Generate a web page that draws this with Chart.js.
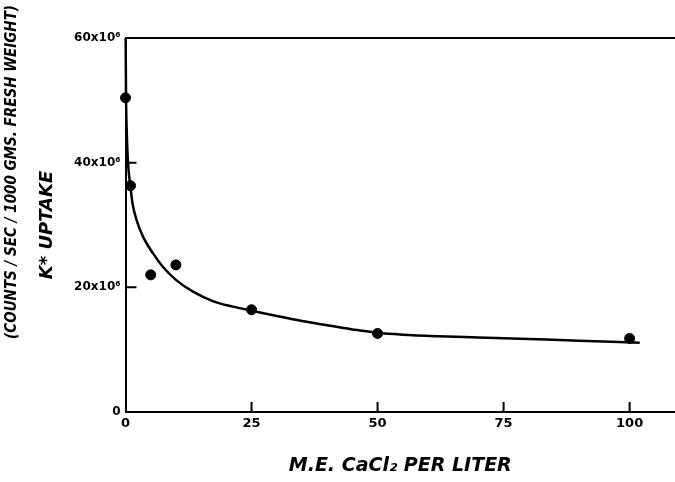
<!DOCTYPE html>
<html><head><meta charset="utf-8">
<script src="https://cdn.jsdelivr.net/npm/chart.js@4/dist/chart.umd.min.js"></script>
<style>html,body{margin:0;padding:0;background:#fff}#wrap{width:675px;height:482px}</style>
</head><body><div id="wrap"><canvas id="c" width="675" height="482"></canvas></div>
<script>
// Measured points: M.E. CaCl2 per liter vs K* uptake (x10^6 counts/sec/1000 gms fresh weight)
const concentrations = [0, 1, 5, 10, 25, 50, 100];
const uptake = [50.4, 36.3, 22.0, 23.6, 16.4, 12.6, 11.8];
// Hand-drawn fitted curve
const curveX = [0.03, 0.1, 0.25, 0.5, 1, 1.4, 2.2, 3.5, 5.5, 7.4, 10, 13.4, 17.3, 21.3, 25, 30, 35, 40, 45, 50, 55, 62, 70, 80, 90, 102];
const curveY = [60, 51, 45, 40, 36, 33.4, 30.8, 28.1, 25.4, 23.3, 21.2, 19.3, 17.8, 16.9, 16.25, 15.4, 14.6, 13.9, 13.25, 12.7, 12.4, 12.15, 11.95, 11.7, 11.45, 11.1];
const xTicks = [0, 25, 50, 75, 100];
const yTicks = [0, 20, 40, 60];
const yTickLabels = ['0', '20x10⁶', '40x10⁶', '60x10⁶'];
const xTitle = 'M.E. CaCl₂ PER LITER';
const yTitle = 'K* UPTAKE';
const yTitle2 = '(COUNTS / SEC / 1000 GMS. FRESH WEIGHT)';

const TITLE_FONT = 15, TITLE_PAD = {top: 3, bottom: 4};
const titleWidth = TITLE_FONT * 1.2 + TITLE_PAD.top + TITLE_PAD.bottom;
const plotLeft = 125.5;

const innerTicks = {
  id: 'innerTicks',
  afterDraw(chart) {
    const {ctx, scales: {x, y}, chartArea} = chart;
    ctx.save();
    ctx.strokeStyle = '#000';
    ctx.lineWidth = 2;
    ctx.beginPath();
    xTicks.forEach(v => {
      if (v === 0) return;
      const px = x.getPixelForValue(v);
      ctx.moveTo(px, chartArea.bottom);
      ctx.lineTo(px, chartArea.bottom - 10);
    });
    yTicks.forEach(v => {
      if (v === 0 || v === 60) return;
      const py = y.getPixelForValue(v);
      ctx.moveTo(chartArea.left, py);
      ctx.lineTo(chartArea.left + 11, py);
    });
    ctx.stroke();
    ctx.restore();
  }
};

new Chart(document.getElementById('c'), {
  type: 'scatter',
  data: {
    datasets: [
      {
        data: curveX.map((x, i) => ({x, y: curveY[i]})),
        showLine: true,
        borderColor: '#000',
        borderWidth: 2.5,
        pointRadius: 0,
        cubicInterpolationMode: 'monotone',
        fill: false,
        clip: false
      },
      {
        data: concentrations.map((x, i) => ({x, y: uptake[i]})),
        backgroundColor: '#000',
        borderColor: '#000',
        pointRadius: 5,
        showLine: false,
        clip: false
      }
    ]
  },
  options: {
    responsive: false,
    animation: false,
    devicePixelRatio: 1,
    layout: {autoPadding: false, padding: {top: 5, right: 0, bottom: 0, left: 0}},
    plugins: {
      legend: {display: false},
      tooltip: {enabled: false},
      title: {
        display: true,
        text: yTitle2,
        position: 'left',
        align: 'end',
        color: '#000',
        font: {family: "'DejaVu Sans Condensed', 'DejaVu Sans', sans-serif", size: TITLE_FONT, weight: 'bold', style: 'italic'},
        padding: TITLE_PAD
      }
    },
    scales: {
      x: {
        type: 'linear',
        position: 'bottom',
        min: 0,
        max: 109,
        afterBuildTicks: s => { s.ticks = xTicks.map(v => ({value: v})); },
        afterFit: s => { s.height = 70; s.paddingRight = 0; s.paddingLeft = 0; },
        grid: {display: false},
        border: {display: true, color: '#000', width: 2},
        ticks: {color: '#000', padding: -4, maxRotation: 0, autoSkip: false,
                font: {family: 'DejaVu Sans', size: 13, weight: 'bold'}},
        title: {display: true, text: xTitle, color: '#000',
                font: {family: 'DejaVu Sans', size: 19, weight: 'bold', style: 'italic'},
                padding: {top: 0, bottom: 5}}
      },
      x2: {
        type: 'linear',
        axis: 'x',
        position: 'top',
        display: true,
        grid: {display: false},
        border: {display: false},
        ticks: {display: false},
        afterFit: s => { s.height = 33; s.paddingRight = 0; s.paddingLeft = 0; }
      },
      y: {
        type: 'linear',
        min: 0,
        max: 60,
        afterBuildTicks: s => { s.ticks = yTicks.map(v => ({value: v})); },
        afterFit: s => { s.width = plotLeft - titleWidth; },
        grid: {display: true, drawTicks: false, lineWidth: 2,
               color: c => (c.tick && c.tick.value === 60) ? '#000' : 'rgba(0,0,0,0)'},
        border: {display: true, color: '#000', width: 2},
        ticks: {color: '#000', padding: 5,
                font: {family: 'DejaVu Sans', size: 12, weight: 'bold'},
                callback: v => yTickLabels[yTicks.indexOf(v)]},
        title: {display: true, text: yTitle, color: '#000',
                font: {family: 'DejaVu Sans', size: 18, weight: 'bold', style: 'italic'},
                padding: {top: 12, bottom: 0}}
      }
    }
  },
  plugins: [innerTicks]
});
</script>
</body></html>
